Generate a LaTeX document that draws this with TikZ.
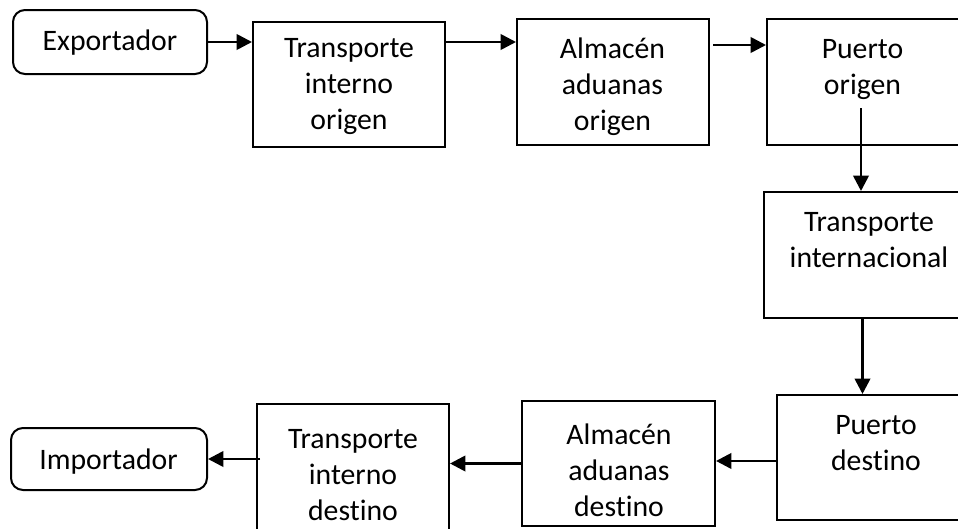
\documentclass[tikz,border=0pt]{standalone}
\usepackage{fontspec}
\setmainfont{Carlito}[Ligatures={NoCommon}]
\usetikzlibrary{arrows.meta}
\begin{document}
\begin{tikzpicture}[x=0.75pt,y=-0.75pt,
  box/.style={draw, line width=1.5pt, rectangle, inner sep=0pt},
  rbox/.style={box, rounded corners=9pt},
  txt/.style={align=center, font=\fontsize{22.3pt}{27pt}\selectfont, inner sep=0pt},
  arr/.style={line width=2pt, -{Triangle[length=11.5pt,width=11.5pt]}}]
\useasboundingbox (0,0) rectangle (958,529);
\begin{scope}
\clip (0,0) rectangle (958,529);
% boxes
\node[rbox, minimum width=145.5pt, minimum height=48pt] (exp) at (110,42) {};
\node[box, minimum width=144pt, minimum height=93.75pt] (tio) at (349,84.5) {};
\node[box, minimum width=144pt, minimum height=94.5pt] (aao) at (613,82) {};
\node[box, minimum width=145.5pt, minimum height=94.5pt] (po) at (864,82) {};
\node[box, minimum width=147.75pt, minimum height=94.5pt] (ti) at (862.5,255) {};
\node[box, minimum width=138pt, minimum height=93.75pt] (pd) at (869,457.5) {};
\node[box, minimum width=144.75pt, minimum height=93.75pt] (aad) at (618.5,463.5) {};
\node[box, minimum width=144pt, minimum height=95.25pt] (tid) at (353,467.5) {};
\node[rbox, minimum width=147pt, minimum height=46.5pt] (imp) at (109,459) {};
% texts
\node[txt] (texp) at (110,43) {Exportador};
\node[txt] (ttio) at (349,87) {Transporte\\interno\\origen};
\node[txt] (taao) at (612.5,87) {Almacén\\aduanas\\origen};
\node[txt] (tpo) at (862.5,70) {Puerto\\origen};
\node[txt] (tti) at (869,240.5) {Transporte\\internacional};
\node[txt] (tpd) at (876,443) {Puerto\\destino};
\node[txt] (taad) at (619,470) {Almacén\\aduanas\\destino};
\node[txt] (ttid) at (353,475) {Transporte\\interno\\destino};
\node[txt] (timp) at (108.5,462) {Importador};
% connectors
\coordinate (s3) at (713,45);
\coordinate (s4) at (861,108);
\coordinate (s8) at (260,459);
\draw[arr] (exp.east) -- (exp.east -| tio.west);
\draw[arr] (tio.east |- exp.east) -- (aao.west |- exp.east);
\draw[arr] (s3) -- (s3 -| po.west);
\draw[arr] (s4) -- (s4 |- ti.north);
\draw[arr] (ti.south) -- (ti.south |- pd.north);
\draw[arr] ([yshift=-2.6pt]pd.west) -- ([yshift=-2.6pt]pd.west -| aad.east);
\draw[arr] (aad.west) -- (aad.west -| tid.east);
\draw[arr] (s8) -- (s8 -| imp.east);
\end{scope}
\end{tikzpicture}
\end{document}
